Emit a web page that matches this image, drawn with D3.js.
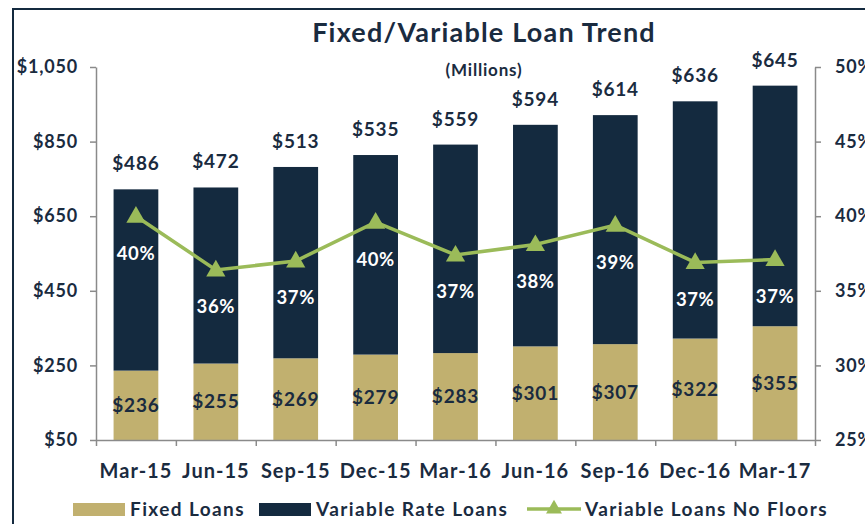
<!DOCTYPE html>
<html>
<head>
<meta charset="utf-8">
<script src="https://cdn.jsdelivr.net/npm/d3@7"></script>
<style>
  html, body { margin: 0; padding: 0; background: #fff; }
  svg { display: block; }
  text { font-family: Lato, "Open Sans", sans-serif; font-weight: 700; }
</style>
</head>
<body>
<svg id="chart" width="865" height="524"></svg>
<script>
const categories = ["Mar-15","Jun-15","Sep-15","Dec-15","Mar-16","Jun-16","Sep-16","Dec-16","Mar-17"];
const fixedLoans = [236,255,269,279,283,301,307,322,355];
const variableLoans = [486,472,513,535,559,594,614,636,645];
const noFloorsPct = [40.0,36.4,37.0,39.6,37.4,38.1,39.4,36.9,37.1];
const leftTicks = [50,250,450,650,850,1050];
const rightTicks = [25,30,35,40,45,50];
const seriesNames = ["Fixed Loans","Variable Rate Loans","Variable Loans No Floors"];

const C = { navy: "#142a3f", tan: "#c1b06f", green: "#9bbb59", text: "#1a2b3f", axis: "#8a8a8a" };

const svg = d3.select("#chart");
const L = 96, R = 815, T = 67, B = 440;

// outer frame
svg.append("rect").attr("x", 13).attr("y", 9).attr("width", 900).attr("height", 600)
  .attr("fill", "none").attr("stroke", C.navy).attr("stroke-width", 2);

// title
svg.append("text").attr("x", 484).attr("y", 42).attr("text-anchor", "middle")
  .attr("font-size", 27).attr("letter-spacing", 1.2).attr("fill", C.text).text("Fixed/Variable Loan Trend");
svg.append("text").attr("x", 484).attr("y", 76).attr("text-anchor", "middle")
  .attr("font-size", 17).attr("letter-spacing", 0.8).attr("fill", C.text).text("(Millions)");

const x = d3.scaleBand().domain(categories).range([L, R]).paddingInner(0.44).paddingOuter(0.22);
const xIdx = d3.scaleLinear().domain([0, categories.length]).range([L, R]);
const yL = d3.scaleLinear().domain([50, 1050]).range([B, T]);
const yR = d3.scaleLinear().domain([25, 50]).range([B, T]);

// clip
svg.append("clipPath").attr("id", "plotclip").append("rect")
  .attr("x", L).attr("y", T).attr("width", R - L).attr("height", B - T);

const data = categories.map((c, i) => ({ c, f: fixedLoans[i], v: variableLoans[i], p: noFloorsPct[i] }));

const bars = svg.append("g").attr("clip-path", "url(#plotclip)");
bars.selectAll(".fx").data(data).join("rect")
  .attr("x", d => x(d.c)).attr("width", x.bandwidth())
  .attr("y", d => yL(d.f)).attr("height", d => yL(0) - yL(d.f)).attr("fill", C.tan);
bars.selectAll(".vr").data(data).join("rect")
  .attr("x", d => x(d.c)).attr("width", x.bandwidth())
  .attr("y", d => yL(d.f + d.v)).attr("height", d => yL(d.f) - yL(d.f + d.v)).attr("fill", C.navy);

// axes
const axisStyle = (size, ls) => g => {
  g.selectAll("path, line").attr("stroke", C.axis).attr("stroke-width", 1.5);
  g.selectAll("text").attr("fill", C.text).attr("font-size", size).attr("letter-spacing", ls)
    .attr("font-family", "Lato, sans-serif").attr("font-weight", 700);
};
svg.append("g").attr("transform", `translate(${L},0)`)
  .call(d3.axisLeft(yL).tickValues(leftTicks).tickSize(6).tickSizeOuter(0).tickPadding(12)
    .tickFormat(d => "$" + d3.format(",")(d)))
  .call(axisStyle(18, 0.8));
svg.append("g").attr("transform", `translate(${R},0)`)
  .call(d3.axisRight(yR).tickValues(rightTicks).tickSize(6).tickSizeOuter(0).tickPadding(14)
    .tickFormat(d => d + "%"))
  .call(axisStyle(18, 0.8));
svg.append("g").attr("transform", `translate(0,${B})`)
  .call(d3.axisBottom(xIdx).tickValues(d3.range(categories.length + 1)).tickSize(6).tickSizeOuter(0).tickFormat(""))
  .call(axisStyle(18, 0));
svg.append("g").attr("transform", `translate(0,${B})`)
  .call(d3.axisBottom(x).tickSize(0).tickPadding(24))
  .call(g => g.select(".domain").remove())
  .call(axisStyle(20, 1));

// fixed labels
svg.selectAll(".fl").data(data).join("text")
  .attr("x", d => x(d.c) + x.bandwidth() / 2)
  .attr("y", d => (Math.min(yL(d.f), B) + B) / 2).attr("dy", "0.35em")
  .attr("text-anchor", "middle").attr("font-size", 19).attr("letter-spacing", 0.8).attr("fill", C.text)
  .text(d => "$" + d.f);
// variable labels
svg.selectAll(".vl").data(data).join("text")
  .attr("x", d => x(d.c) + x.bandwidth() / 2)
  .attr("y", d => yL(d.f + d.v) - 19)
  .attr("text-anchor", "middle").attr("font-size", 19).attr("letter-spacing", 0.8).attr("fill", C.text)
  .text(d => "$" + d.v);

// line
const line = d3.line().x(d => x(d.c) + x.bandwidth() / 2).y(d => yR(d.p));
svg.append("path").datum(data).attr("d", line).attr("fill", "none")
  .attr("stroke", C.green).attr("stroke-width", 3.5);
const tri = d3.symbol(d3.symbolTriangle).size(160);
svg.selectAll(".mk").data(data).join("path")
  .attr("transform", d => `translate(${x(d.c) + x.bandwidth() / 2},${yR(d.p) + 1})`)
  .attr("d", tri).attr("fill", C.green);
svg.selectAll(".pl").data(data).join("text")
  .attr("x", d => x(d.c) + x.bandwidth() / 2)
  .attr("y", d => yR(d.p) + 37).attr("dy", "0.35em")
  .attr("text-anchor", "middle").attr("font-size", 18.5).attr("letter-spacing", 0.6).attr("fill", "#fff")
  .text(d => Math.round(d.p) + "%");

// legend
const lg = svg.append("g");
const ly = 509;
lg.append("rect").attr("x", 73).attr("y", ly - 6).attr("width", 52).attr("height", 13).attr("fill", C.tan);
lg.append("text").attr("x", 130).attr("y", ly).attr("dy", "0.35em").attr("font-size", 19).attr("letter-spacing", 1.4).attr("fill", C.text).text(seriesNames[0]);
lg.append("rect").attr("x", 259).attr("y", ly - 6).attr("width", 52).attr("height", 13).attr("fill", C.navy);
lg.append("text").attr("x", 316).attr("y", ly).attr("dy", "0.35em").attr("font-size", 19).attr("letter-spacing", 1.4).attr("fill", C.text).text(seriesNames[1]);
lg.append("line").attr("x1", 527).attr("x2", 581).attr("y1", ly).attr("y2", ly).attr("stroke", C.green).attr("stroke-width", 3.5);
lg.append("path").attr("transform", `translate(554,${ly})`).attr("d", d3.symbol(d3.symbolTriangle).size(110)).attr("fill", C.green);
lg.append("text").attr("x", 585).attr("y", ly).attr("dy", "0.35em").attr("font-size", 19).attr("letter-spacing", 1.4).attr("fill", C.text).text(seriesNames[2]);
</script>
</body>
</html>
